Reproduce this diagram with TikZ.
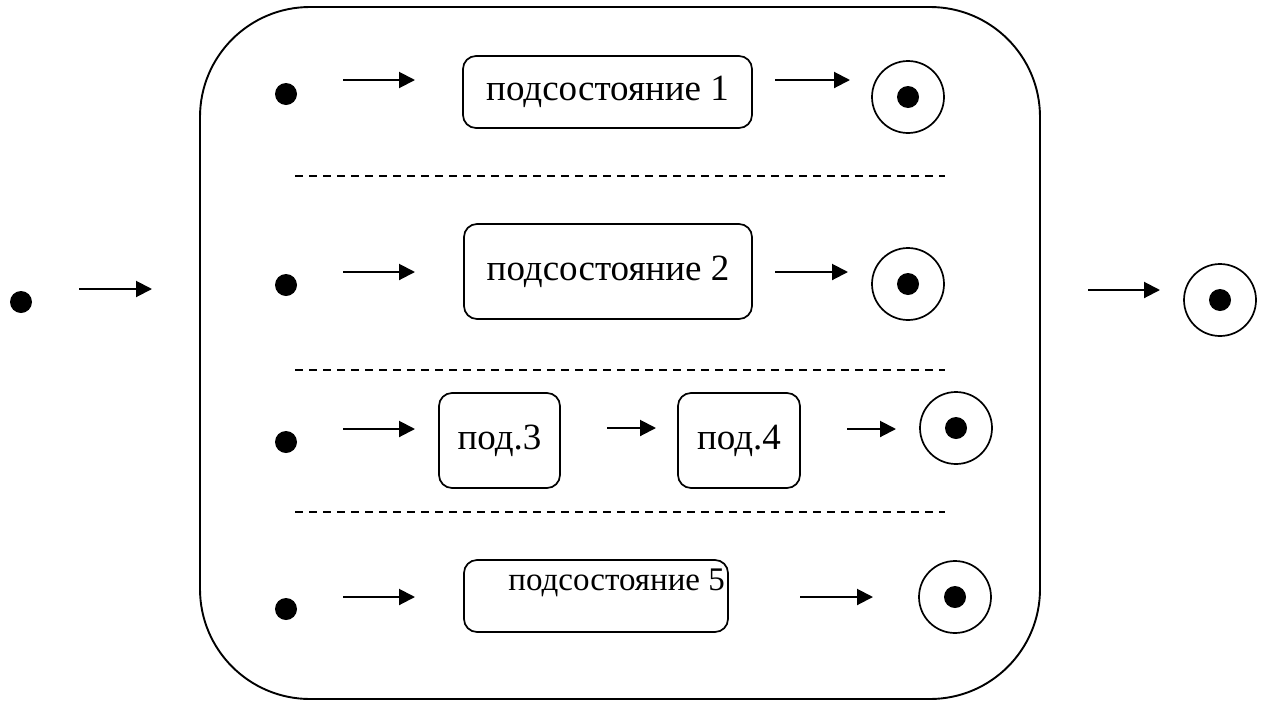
\documentclass[tikz,border=0pt]{standalone}
\usepackage{fontspec}
\setmainfont{Liberation Serif}
\usetikzlibrary{arrows.meta}
\begin{document}
\begin{tikzpicture}[x=1pt,y=-1pt,
  arr/.style={line width=2pt,-{Triangle[length=16pt,width=16pt]}},
  sbox/.style={draw,line width=1.7pt,rounded corners=13pt,inner sep=0pt,font=\fontsize{37}{44}\selectfont},
  dotn/.style={circle,fill=black,inner sep=0pt,minimum size=22pt},
  endc/.style={circle,draw,line width=1.7pt,inner sep=0pt,minimum size=72pt},
  sepline/.style={line width=1.2pt,dash pattern=on 8pt off 6pt},
  composite/.style={draw,line width=1.9pt,rounded corners=110pt,inner sep=0pt}
]
\useasboundingbox (0,0) rectangle (1266,702);
% composite state
\node[composite,minimum width=840pt,minimum height=692pt] (comp) at (620,353) {};
% outer initial / final
\node[dotn] (s0) at (21,302) {};
\node[endc] (cf) at (1220,300) {};
\node[dotn] (cfd) at (cf.center) {};
\draw[arr] (79,289) coordinate (a0s) -- (152,289) coordinate (a0e);
\draw[arr] (1088,290) coordinate (afs) -- (1160,290) coordinate (afe);
% row 1
\node[dotn] (s1) at (286,94) {};
\node[sbox,minimum width=289pt,minimum height=72pt] (b1) at (607.5,92) {подсостояние 1};
\node[endc] (c1) at (908,97) {};
\node[dotn] (c1d) at (c1.center) {};
\draw[arr] (343,80) coordinate (r1a) -- (415,80) coordinate (r1b);
\draw[arr] (775,80) coordinate (r1c) -- (850,80) coordinate (r1d);
% separator 1
\draw[sepline] (295,176) coordinate (d1s) -- (945,176) coordinate (d1e);
% row 2
\node[dotn] (s2) at (286,285) {};
\node[sbox,minimum width=288pt,minimum height=95pt] (b2) at (608,271.5) {подсостояние 2};
\node[endc] (c2) at (908,284) {};
\node[dotn] (c2d) at (c2.center) {};
\draw[arr] (343,272) coordinate (r2a) -- (415,272) coordinate (r2b);
\draw[arr] (775,272) coordinate (r2c) -- (848,272) coordinate (r2d);
% separator 2
\draw[sepline] (295,370) coordinate (d2s) -- (945,370) coordinate (d2e);
% row 3
\node[dotn] (s3) at (286,442) {};
\node[sbox,minimum width=121pt,minimum height=95pt] (b3) at (499.5,440.5) {под.3};
\node[sbox,minimum width=122pt,minimum height=95pt] (b4) at (739,440.5) {под.4};
\node[endc] (c3) at (956,428) {};
\node[dotn] (c3d) at (c3.center) {};
\draw[arr] (343,429) coordinate (r3a) -- (415,429) coordinate (r3b);
\draw[arr] (607,428) coordinate (r3c) -- (656,428) coordinate (r3d);
\draw[arr] (847,429) coordinate (r3e) -- (896,429) coordinate (r3f);
% separator 3
\draw[sepline] (295,512) coordinate (d3s) -- (945,512) coordinate (d3e);
% row 4
\node[dotn] (s4) at (286,609) {};
\node[sbox,minimum width=264pt,minimum height=72pt] (b5) at (596,596) {};
\node[font=\fontsize{33}{40}\selectfont,inner sep=0pt,anchor=east] (t5) at (725,583) {подсостояние 5};
\node[endc] (c4) at (955,597) {};
\node[dotn] (c4d) at (c4.center) {};
\draw[arr] (343,597) coordinate (r4a) -- (415,597) coordinate (r4b);
\draw[arr] (800,597) coordinate (r4c) -- (873,597) coordinate (r4d);
\end{tikzpicture}
\end{document}
